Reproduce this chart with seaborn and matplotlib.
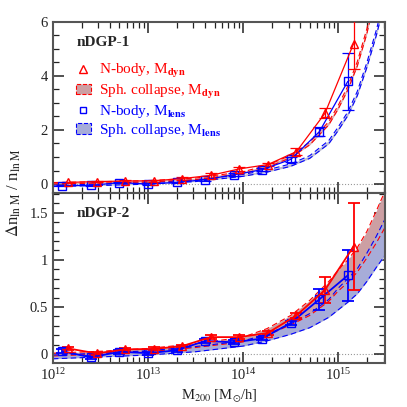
import numpy as np
import matplotlib
matplotlib.use("Agg")
import matplotlib.pyplot as plt
import seaborn as sns
from matplotlib.lines import Line2D
from matplotlib.patches import Patch
from matplotlib.ticker import LogLocator, MultipleLocator

# halo masses (log10 M200) of the binned N-body points
logm_lens = [12.1, 12.4, 12.7, 13.0, 13.3, 13.6, 13.9, 14.2, 14.5, 14.8, 15.1]
logm_dyn = [12.16, 12.46, 12.76, 13.06, 13.36, 13.66, 13.96, 14.26, 14.56, 14.86, 15.16]

# nDGP-1
n1_lens = [-0.06, -0.05, 0.05, 0.0, 0.06, 0.16, 0.34, 0.53, 0.91, 1.93, 3.80]
n1_lens_err = [0.02, 0.02, 0.03, 0.03, 0.03, 0.04, 0.05, 0.06, 0.08, 0.17, 1.05]
n1_dyn = [0.06, 0.09, 0.11, 0.12, 0.20, 0.32, 0.56, 0.72, 1.20, 2.62, 5.19]
n1_dyn_err = [0.03, 0.03, 0.03, 0.04, 0.05, 0.10, 0.08, 0.07, 0.12, 0.18, 0.93]

# nDGP-2
n2_lens = [0.03, -0.035, 0.025, 0.01, 0.04, 0.14, 0.125, 0.165, 0.33, 0.58, 0.835]
n2_lens_err = [0.02, 0.015, 0.02, 0.015, 0.015, 0.02, 0.02, 0.02, 0.025, 0.11, 0.27]
n2_dyn = [0.06, 0.007, 0.05, 0.055, 0.085, 0.18, 0.18, 0.225, 0.41, 0.68, 1.14]
n2_dyn_err = [0.015, 0.015, 0.015, 0.015, 0.015, 0.02, 0.02, 0.02, 0.025, 0.14, 0.46]

# spherical collapse predictions
logm_sc = [12.0, 12.5, 13.0, 13.5, 14.0, 14.25, 14.5, 14.7, 14.9, 15.0, 15.1, 15.2, 15.3, 15.4, 15.5]
sc1_dyn_lo = [0.005, 0.035, 0.075, 0.16, 0.385, 0.61, 0.975, 1.45, 2.19, 2.785, 3.48, 4.37, 5.56, 7.1, 8.88]
sc1_dyn_hi = [0.055, 0.085, 0.125, 0.22, 0.455, 0.69, 1.065, 1.55, 2.31, 2.915, 3.62, 4.53, 5.74, 7.3, 9.12]
sc1_lens_lo = [-0.095, -0.055, -0.005, 0.09, 0.285, 0.44, 0.655, 0.95, 1.49, 1.985, 2.53, 3.27, 4.31, 5.5, 6.88]
sc1_lens_hi = [-0.045, -0.005, 0.045, 0.15, 0.355, 0.52, 0.745, 1.05, 1.61, 2.115, 2.67, 3.43, 4.49, 5.7, 7.12]
sc2_dyn_lo = [-0.02, 0.0, 0.025, 0.07, 0.13, 0.20, 0.31, 0.41, 0.56, 0.67, 0.76, 0.87, 1.02, 1.18, 1.36]
sc2_dyn_hi = [0.01, 0.03, 0.06, 0.11, 0.18, 0.27, 0.41, 0.57, 0.77, 0.89, 1.00, 1.13, 1.30, 1.52, 1.75]
sc2_lens_lo = [-0.05, -0.03, -0.01, 0.025, 0.085, 0.14, 0.21, 0.28, 0.39, 0.47, 0.55, 0.64, 0.77, 0.92, 1.06]
sc2_lens_hi = [-0.01, 0.01, 0.035, 0.08, 0.14, 0.21, 0.32, 0.43, 0.58, 0.70, 0.80, 0.905, 1.07, 1.25, 1.45]

RED, BLUE = "#ff0000", "#0000ff"

sns.set_style("ticks")
plt.rcParams["font.family"] = ["Liberation Serif", "DejaVu Serif"]
plt.rcParams["mathtext.fontset"] = "stix"

m_lens = 10 ** np.array(logm_lens)
m_dyn = 10 ** np.array(logm_dyn)
m_sc = 10 ** np.array(logm_sc)

fig = plt.figure(figsize=(4.07, 4.07), dpi=100)
ax1 = fig.add_axes([0.130, 0.526, 0.816, 0.420])
ax2 = fig.add_axes([0.130, 0.108, 0.816, 0.418], sharex=ax1)


def band(ax, lo, hi, color, fill):
    ax.fill_between(m_sc, lo, hi, color=fill, lw=0, zorder=1)
    sns.lineplot(x=m_sc, y=lo, ax=ax, color=color, lw=0.8, ls=(0, (5, 3)), zorder=2)
    sns.lineplot(x=m_sc, y=hi, ax=ax, color=color, lw=0.8, ls=(0, (5, 3)), zorder=2)


def points(ax, m, y, err, color, marker, lw):
    ax.errorbar(m, y, yerr=err, fmt="none", ecolor=color, elinewidth=lw, capsize=4, capthick=lw, zorder=3)
    sns.lineplot(x=m, y=y, ax=ax, color=color, lw=lw, marker=marker, markersize=6,
                 markerfacecolor="none", markeredgecolor=color, markeredgewidth=1.0, zorder=4)


# top panel
band(ax1, sc1_lens_lo, sc1_lens_hi, BLUE, "#bfc0d4")
band(ax1, sc1_dyn_lo, sc1_dyn_hi, RED, "#dcb0b0")
points(ax1, m_lens, n1_lens, n1_lens_err, BLUE, "s", 0.9)
points(ax1, m_dyn, n1_dyn, n1_dyn_err, RED, "^", 0.9)

# bottom panel
band(ax2, sc2_dyn_lo, sc2_dyn_hi, RED, "#cc9fa3")
band(ax2, sc2_lens_lo, sc2_lens_hi, BLUE, "#a7acd8")
points(ax2, m_lens, n2_lens, n2_lens_err, BLUE, "s", 1.3)
points(ax2, m_dyn, n2_dyn, n2_dyn_err, RED, "^", 1.3)

for ax in (ax1, ax2):
    ax.axhline(0, color="#999999", ls=":", lw=0.8, zorder=0)
    ax.set_xscale("log")
    ax.set_xlim(1e12, 3.1e15)
    ax.xaxis.set_major_locator(LogLocator(base=10, numticks=10))
    ax.xaxis.set_minor_locator(LogLocator(base=10, subs=np.arange(2, 10), numticks=20))
    ax.tick_params(which="both", direction="in", top=True, right=True, labelsize=10.5,
                   color="#222222", labelcolor="#222222")
    ax.tick_params(which="major", length=8, width=1.1)
    ax.tick_params(which="minor", length=4, width=0.9)
    for s in ax.spines.values():
        s.set_linewidth(1.5)
        s.set_color("#555555")
    ax.set_xlabel("")
    ax.set_ylabel("")

ax1.set_ylim(-0.33, 6)
ax1.yaxis.set_major_locator(MultipleLocator(2))
ax1.yaxis.set_minor_locator(MultipleLocator(0.5))
ax1.tick_params(labelbottom=False)
ax2.set_ylim(-0.095, 1.71)
ax2.yaxis.set_major_locator(MultipleLocator(0.5))
ax2.yaxis.set_minor_locator(MultipleLocator(0.1))
ax2.yaxis.set_major_formatter(plt.FuncFormatter(lambda v, _: f"{v:g}"))
ax2.tick_params(axis="x", pad=3)

ax1.text(0.07, 0.86, "nDGP-1", transform=ax1.transAxes, fontsize=11, fontweight="bold")
ax2.text(0.07, 0.86, "nDGP-2", transform=ax2.transAxes, fontsize=11, fontweight="bold")

handles = [
    Line2D([], [], ls="none", marker="^", markersize=6, markerfacecolor="none", markeredgecolor=RED),
    Patch(facecolor="#cc9fa3", edgecolor=RED, linestyle="--", lw=0.8),
    Line2D([], [], ls="none", marker="s", markersize=5, markerfacecolor="none", markeredgecolor=BLUE),
    Patch(facecolor="#a7acd8", edgecolor=BLUE, linestyle="--", lw=0.8),
]
labels = [r"N-body, M$_{\mathbf{dyn}}$", r"Sph. collapse, M$_{\mathbf{dyn}}$",
          r"N-body, M$_{\mathbf{lens}}$", r"Sph. collapse, M$_{\mathbf{lens}}$"]
leg = ax1.legend(handles, labels, loc="upper left", bbox_to_anchor=(0.05, 0.80), frameon=False,
                 fontsize=11, handlelength=1.0, handletextpad=0.5, labelspacing=0.15, borderaxespad=0)
for t, c in zip(leg.get_texts(), [RED, RED, BLUE, BLUE]):
    t.set_color(c)

fig.text(0.035, 0.526, r"$\Delta$n$_{\rm ln\ M}$ / n$_{\rm ln\ M}$", rotation=90,
         ha="center", va="center", fontsize=12, color="#222222")
fig.text(0.538, 0.028, r"M$_{200}$ [M$_{\odot}$/h]", ha="center", va="center",
         fontsize=10.5, color="#222222")

fig.savefig("out.png", dpi=100)
